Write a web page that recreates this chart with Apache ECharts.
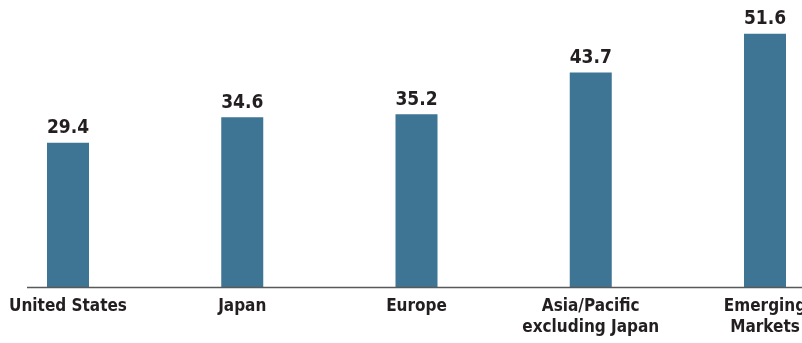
<!DOCTYPE html>
<html><head><meta charset="utf-8">
<script src="https://cdn.jsdelivr.net/npm/echarts@6/dist/echarts.min.js"></script>
<style>html,body{margin:0;padding:0;background:#fff}#c{width:802px;height:343px}</style>
</head><body><div id="c"></div>
<script>
const categories = ["United States", "Japan", "Europe", "Asia/Pacific\nexcluding Japan", "Emerging\nMarkets"];
const values = [29.4, 34.6, 35.2, 43.7, 51.6];

const FONT = '"DejaVu Sans Condensed", "Liberation Sans Narrow", sans-serif';
const chart = echarts.init(document.getElementById('c'), null, {renderer: 'canvas'});
chart.setOption({
  animation: false,
  grid: {left: 68, right: 37, top: 17, bottom: 56, containLabel: false, outerBoundsMode: 'none'},
  xAxis: {
    type: 'category', data: categories, boundaryGap: false,
    axisLine: {show: false}, axisTick: {show: false},
    axisLabel: {interval: 0, color: '#231f20', fontFamily: FONT, fontWeight: 'bold', fontSize: 17, lineHeight: 21, margin: 9}
  },
  yAxis: {type: 'value', min: 0, max: 55, show: false, splitLine: {show: false}},
  graphic: [{type: 'line', shape: {x1: 27, y1: 287.5, x2: 802, y2: 287.5}, style: {stroke: '#58595b', lineWidth: 1.5}, z: 10}],
  series: [{
    type: 'bar', data: values, barWidth: 42, clip: false,
    itemStyle: {color: '#3e7595'},
    label: {show: true, position: 'top', distance: 5, color: '#231f20', fontFamily: FONT, fontWeight: 'bold', fontSize: 19,
      formatter: p => p.value.toFixed(1)}
  }]
});
</script></body></html>
